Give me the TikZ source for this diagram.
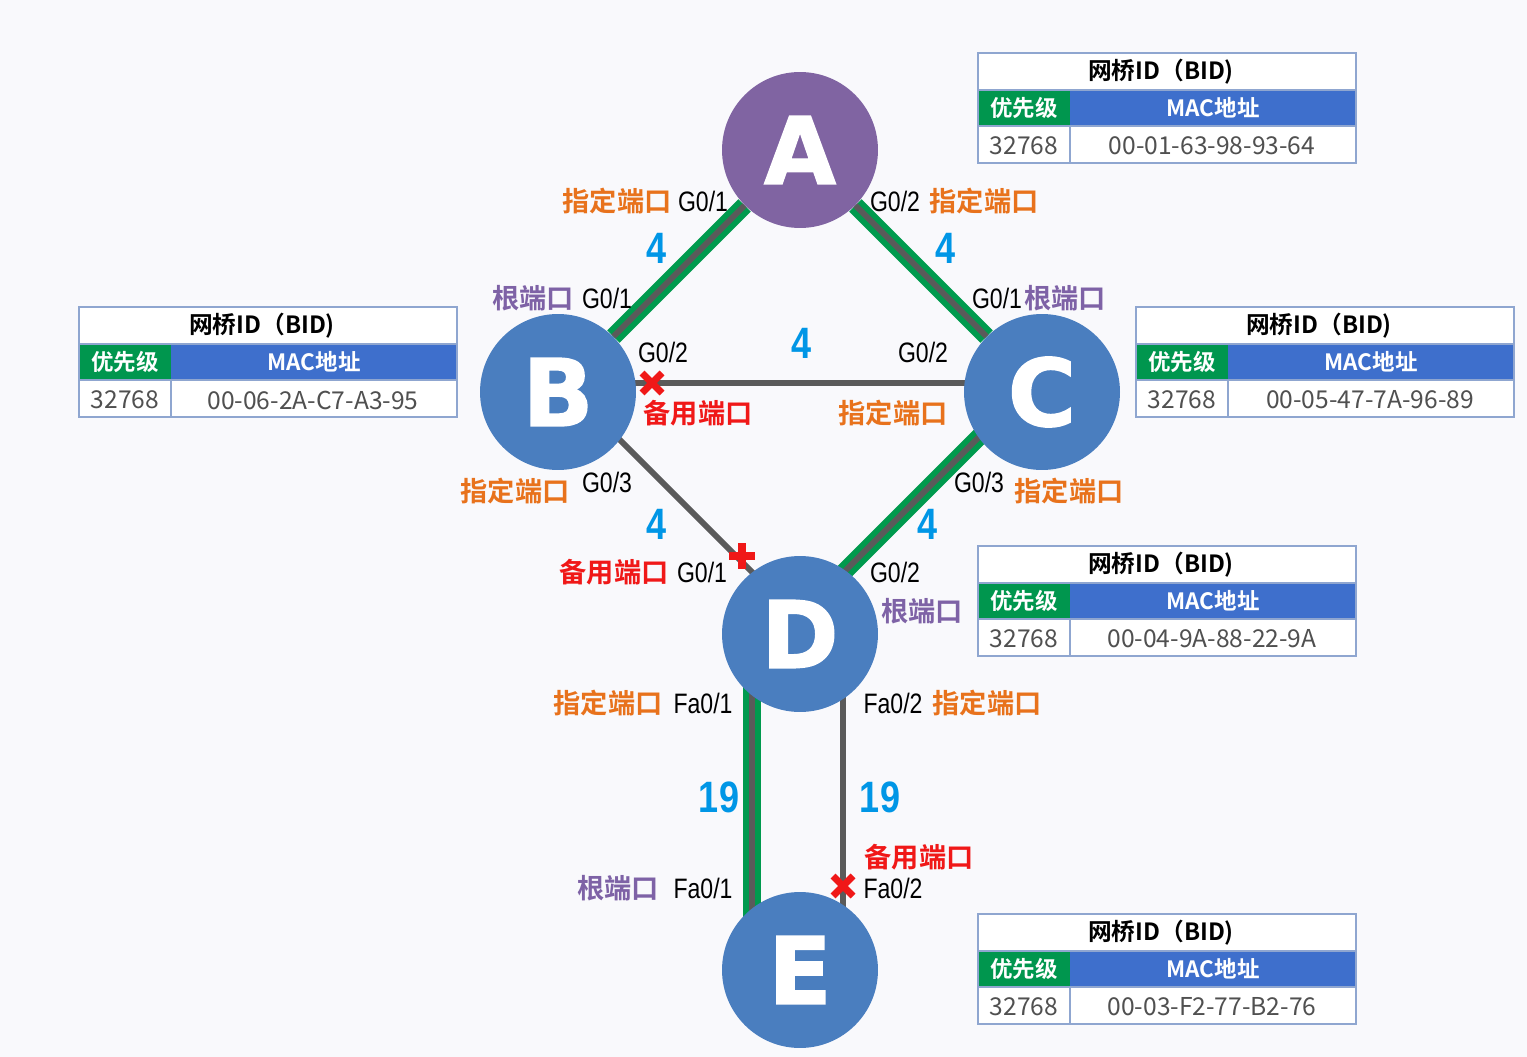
\documentclass[tikz,border=0pt]{standalone}
\usepackage{fontspec}
\setmainfont{Liberation Sans}
\newfontfamily\cjk{Noto Sans CJK SC}[BoldFont={Noto Sans CJK SC Bold}]
\newfontfamily\narrowfont{Liberation Sans}[FakeStretch=0.82]
\newfontfamily\letterfont{DejaVu Sans}[BoldFeatures={FakeBold=1.5}]
\usetikzlibrary{calc,backgrounds}
\definecolor{pagebg}{HTML}{F9F9FC}
\definecolor{switchpurple}{HTML}{8064A2}
\definecolor{switchblue}{HTML}{4A7EBF}
\definecolor{bandgreen}{HTML}{009A4E}
\definecolor{linkgray}{HTML}{5A5A5A}
\definecolor{desigorange}{HTML}{E8721C}
\definecolor{rootpurple}{HTML}{7E62A6}
\definecolor{altred}{HTML}{F01818}
\definecolor{costblue}{HTML}{0096E6}
\definecolor{headblue}{HTML}{3E6FCC}
\definecolor{headgreen}{HTML}{00964E}
\definecolor{tableedge}{HTML}{8FA6D0}
\definecolor{textgray}{HTML}{505050}

\begin{document}
\begin{tikzpicture}[x=0.02cm,y=-0.02cm,
  switch/.style={circle,minimum size=3.12cm,inner sep=0pt,text=white,font=\letterfont\bfseries\fontsize{53}{53}\selectfont},
  port/.style={inner sep=0pt,text=black,font=\narrowfont\fontsize{16}{16}\selectfont},
  desig/.style={inner sep=0pt,text=desigorange,font=\cjk\bfseries\fontsize{15.5}{16}\selectfont},
  rootp/.style={desig,text=rootpurple},
  altp/.style={desig,text=altred},
  cost/.style={inner sep=0pt,text=costblue,font=\narrowfont\bfseries\fontsize{25}{25}\selectfont},
  active/.style={draw=linkgray,line width=3.4pt,preaction={draw=bandgreen,line width=10pt}},
  idle/.style={draw=linkgray,line width=3.4pt},
  xmark/.style={draw=altred,line width=4pt},
  bidtitle/.style={inner sep=0pt,font=\cjk\bfseries\fontsize{13.5}{14}\selectfont},
  bidhead/.style={inner sep=0pt,text=white,font=\cjk\bfseries\fontsize{12.8}{13}\selectfont},
  biddata/.style={inner sep=0pt,text=textgray,font=\cjk\fontsize{14}{14}\selectfont}]
  \useasboundingbox (0,0) rectangle (1527,1057);

  % switches
  \node[switch,fill=switchpurple] (A) at (800,150) {A};
  \node[switch,fill=switchblue] (B) at (558,392) {B};
  \node[switch,fill=switchblue] (C) at (1042,392) {C};
  \node[switch,fill=switchblue] (D) at (800,634) {D};
  \node[switch,fill=switchblue] (E) at (800,970) {E};

  % links
  \begin{scope}[on background layer]
    \fill[pagebg] (0,0) rectangle (1527,1057);
    \draw[active] (A) -- (B);
    \draw[active] (A) -- (C);
    \draw[idle] ($(B)+(0,-9)$) -- ($(C)+(0,-9)$);
    \draw[idle] ($(B)+(7,-7)$) -- ($(D)+(7,-7)$);
    \draw[active] ($(C)+(-9,-9)$) -- ($(D)+(-9,-9)$);
    \draw[active] ($(D)+(-48,0)$) -- ($(E)+(-48,0)$);
    \draw[idle] ($(D)+(43,0)$) -- ($(E)+(43,0)$);
  \end{scope}

  % blocked ports
  \draw[xmark] (652,383) +(-10,-10) -- +(10,10) +(-10,10) -- +(10,-10);
  \draw[xmark] (742,556) +(-13,0) -- +(13,0) +(0,-13) -- +(0,13);
  \draw[xmark] (843,886) +(-10,-10) -- +(10,10) +(-10,10) -- +(10,-10);

  % A
  \node[desig] (a1-role) at (617,201) {指定端口};
  \node[port] (a1) at (703,201) {G0/1};
  \node[port] (a2) at (895,201) {G0/2};
  \node[desig] (a2-role) at (984,201) {指定端口};
  \node[cost] (ab-cost) at (657,248) {4};
  \node[cost] (ac-cost) at (946,248) {4};
  % B
  \node[rootp] (b1-role) at (533,298) {根端口};
  \node[port] (b1) at (607,298) {G0/1};
  \node[port] (b2) at (663,352) {G0/2};
  \node[altp] (b2-role) at (698,413) {备用端口};
  \node[desig] (b3-role) at (515,491) {指定端口};
  \node[port] (b3) at (607,482) {G0/3};
  \node[cost] (bc-cost) at (802,343) {4};
  \node[cost] (bd-cost) at (657,524) {4};
  % C
  \node[port] (c1) at (997,298) {G0/1};
  \node[rootp] (c1-role) at (1065,298) {根端口};
  \node[port] (c2) at (923,352) {G0/2};
  \node[desig] (c2-role) at (893,413) {指定端口};
  \node[port] (c3) at (979,482) {G0/3};
  \node[desig] (c3-role) at (1069,491) {指定端口};
  \node[cost] (cd-cost) at (928,524) {4};
  % D
  \node[altp] (d1-role) at (614,572) {备用端口};
  \node[port] (d1) at (702,572) {G0/1};
  \node[port] (d2) at (895,572) {G0/2};
  \node[rootp] (d2-role) at (922,611) {根端口};
  \node[desig] (d3-role) at (608,703) {指定端口};
  \node[port] (d3) at (703,703) {Fa0/1};
  \node[port] (d4) at (893,703) {Fa0/2};
  \node[desig] (d4-role) at (987,703) {指定端口};
  \node[cost] (de1-cost) at (719,797) {19};
  \node[cost] (de2-cost) at (880,797) {19};
  % E
  \node[altp] (e2-role) at (919,857) {备用端口};
  \node[port] (e2) at (893,888) {Fa0/2};
  \node[rootp] (e1-role) at (618,888) {根端口};
  \node[port] (e1) at (703,888) {Fa0/1};

  % bridge ID tables
  \foreach \n/\x/\y/\mac in {a/978/53/00-01-63-98-93-64, b/79/307/00-06-2A-C7-A3-95,
      c/1136/307/00-05-47-7A-96-89, d/978/546/00-04-9A-88-22-9A, e/978/914/00-03-F2-77-B2-76}{
    \fill[white] (\x,\y) rectangle (\x+378,\y+110);
    \fill[headgreen] (\x,\y+37) rectangle (\x+92,\y+73);
    \fill[headblue] (\x+92,\y+37) rectangle (\x+378,\y+73);
    \draw[tableedge,line width=1pt] (\x,\y) rectangle (\x+378,\y+110)
      (\x,\y+37) -- (\x+378,\y+37) (\x,\y+73) -- (\x+378,\y+73) (\x+92,\y+73) -- (\x+92,\y+110);
    \node[bidtitle] (\n-title) at (\x+183,\y+19) {网桥ID（BID)};
    \node[bidhead] (\n-prio) at (\x+46,\y+55) {优先级};
    \node[bidhead] (\n-mac) at (\x+235,\y+55) {MAC地址};
    \node[biddata] (\n-prioval) at (\x+46,\y+93) {32768};
    \node[biddata] (\n-macval) at (\x+234,\y+93) {\mac};
  }
\end{tikzpicture}
\end{document}
